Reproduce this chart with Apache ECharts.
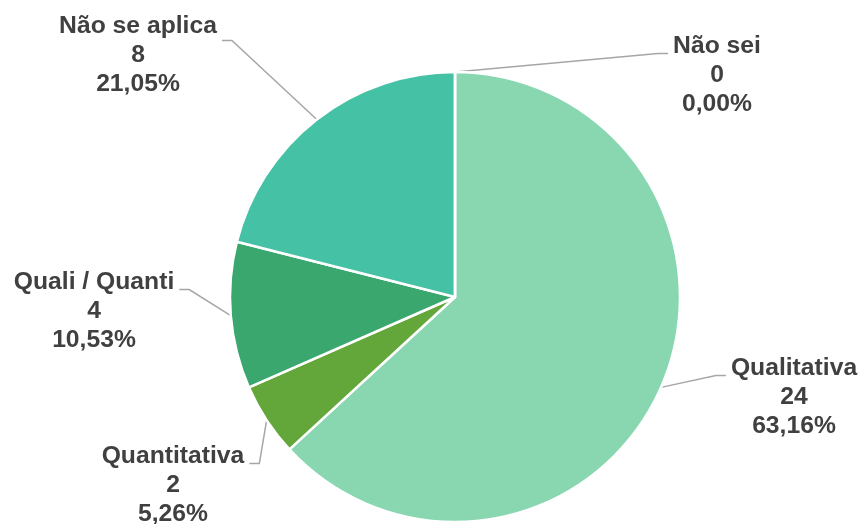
<!DOCTYPE html>
<html><head><meta charset="utf-8">
<script src="https://cdn.jsdelivr.net/npm/echarts@6/dist/echarts.min.js"></script>
<style>html,body{margin:0;padding:0;background:#fff}#c{width:860px;height:524px}</style>
</head><body><div id="c"></div>
<script>
const categories = ['Qualitativa', 'Quantitativa', 'Quali / Quanti', 'Não se aplica', 'Não sei'];
const counts = [24, 2, 4, 8, 0];
const colors = ['#88D7B0', '#63A63A', '#39A76E', '#45C2A5', '#7FC8B8'];

// label layout: [centre x, first-line centre y, leader-line y offset from block top]
const PIE_CX = 455, PIE_CY = 297, PIE_R = 225;
const labelSpots = [[794, 368, 22], [173, 456, 22], [94, 282, 22], [138, 26, 29], [717, 46, 22]];
const LH = 29;
const FS = 24.7;

const total = counts.reduce((a, b) => a + b, 0);
const pct = v => (v / total * 100).toFixed(2).replace('.', ',') + '%';

const chart = echarts.init(document.getElementById('c'), null, {renderer: 'canvas'});
chart.setOption({
  animation: false,
  series: [{
    type: 'pie',
    center: [PIE_CX, PIE_CY],
    radius: PIE_R,
    startAngle: 90,
    clockwise: true,
    avoidLabelOverlap: false,
    data: categories.map((n, i) => ({name: n, value: counts[i], itemStyle: {color: colors[i]}})),
    itemStyle: {borderColor: '#ffffff', borderWidth: 2.5},
    label: {
      show: true,
      position: 'outside',
      fontSize: FS,
      fontWeight: 'bold',
      fontFamily: 'Liberation Sans, Arial, sans-serif',
      color: '#404040',
      lineHeight: LH,
      formatter: p => `{t|${p.name}}\n{t|${p.value}}\n{t|${pct(p.value)}}`,
      rich: {
        t: {align: 'center', fontSize: FS, fontWeight: 'bold', fontFamily: 'Liberation Sans, Arial, sans-serif', color: '#404040', lineHeight: LH}
      }
    },
    labelLine: {show: true, lineStyle: {color: '#A6A6A6', width: 1.5}},
    emphasis: {disabled: true},
    labelLayout: function (params) {
      const s = labelSpots[params.dataIndex];
      const w = params.labelRect.width;
      const top = s[1] - LH / 2;
      const right = s[0] > PIE_CX;
      const start = params.labelLinePoints ? params.labelLinePoints[0] : [PIE_CX, PIE_CY - PIE_R];
      const ly = top + s[2];
      const ex = right ? s[0] - w / 2 - 5 : s[0] + w / 2 + 5;
      const elbow = right ? ex - 10 : ex + 10;
      return {x: s[0], y: top, align: 'center', verticalAlign: 'top', labelLinePoints: [start, [elbow, ly], [ex, ly]]};
    }
  }]
});
</script></body></html>
